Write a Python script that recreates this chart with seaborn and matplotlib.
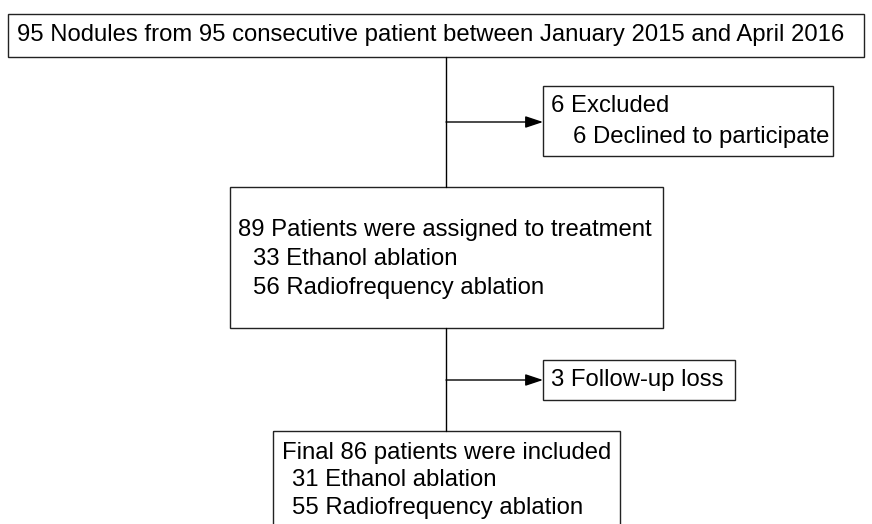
import matplotlib
matplotlib.use("Agg")
import matplotlib.pyplot as plt
from matplotlib.patches import Rectangle
import seaborn as sns

sns.set_theme(style="white")
plt.rcParams["font.family"] = ["Liberation Sans", "DejaVu Sans"]

# Textos de cada caja del diagrama de flujo
caja_inicio = ["95 Nodules from 95 consecutive patient between January 2015 and April 2016"]
caja_excluidos = ["6 Excluded", "6 Declined to participate"]
caja_asignados = ["89 Patients were assigned to treatment", "33 Ethanol ablation", "56 Radiofrequency ablation"]
caja_perdidas = ["3 Follow-up loss"]
caja_final = ["Final 86 patients were included", "31 Ethanol ablation", "55 Radiofrequency ablation"]

W, H = 872, 524
fig = plt.figure(figsize=(W / 100, H / 100), dpi=100)
ax = fig.add_axes([0, 0, 1, 1])
ax.set_xlim(0, W)
ax.set_ylim(H, 0)
ax.axis("off")

FS = 17.2
LW = 1.0


def caja(x0, y0, x1, y1, lineas, tx, ty, dy=29, sangria=12):
    ax.add_patch(Rectangle((x0, y0), x1 - x0, y1 - y0, fill=False, edgecolor="#222222", lw=LW))
    for i, t in enumerate(lineas):
        x = tx if i == 0 else tx + sangria
        ax.text(x, ty + i * dy, t, fontsize=FS, va="center", ha="left", color="black")


def flecha(x0, x1, y):
    ax.annotate("", xy=(x1, y), xytext=(x0, y),
                arrowprops=dict(arrowstyle="-|>,head_length=0.9,head_width=0.3", color="black", lw=LW,
                                shrinkA=0, shrinkB=0))


# Cajas
caja(8, 14, 864, 57, caja_inicio, 17, 35)
caja(543, 86, 833, 156, caja_excluidos, 551, 106, dy=31, sangria=22)
caja(230, 187, 663, 328, caja_asignados, 238, 230, dy=29, sangria=15)
caja(543, 360, 735, 400, caja_perdidas, 551, 380)
caja(273, 431, 620, 540, caja_final, 282, 453, dy=27.5, sangria=10)

# Conectores
ax.plot([446, 446], [57, 187], color="black", lw=LW)
flecha(446, 543, 122)
ax.plot([446, 446], [328, 431], color="black", lw=LW)
flecha(446, 543, 380)

fig.savefig("out.png", dpi=100)
